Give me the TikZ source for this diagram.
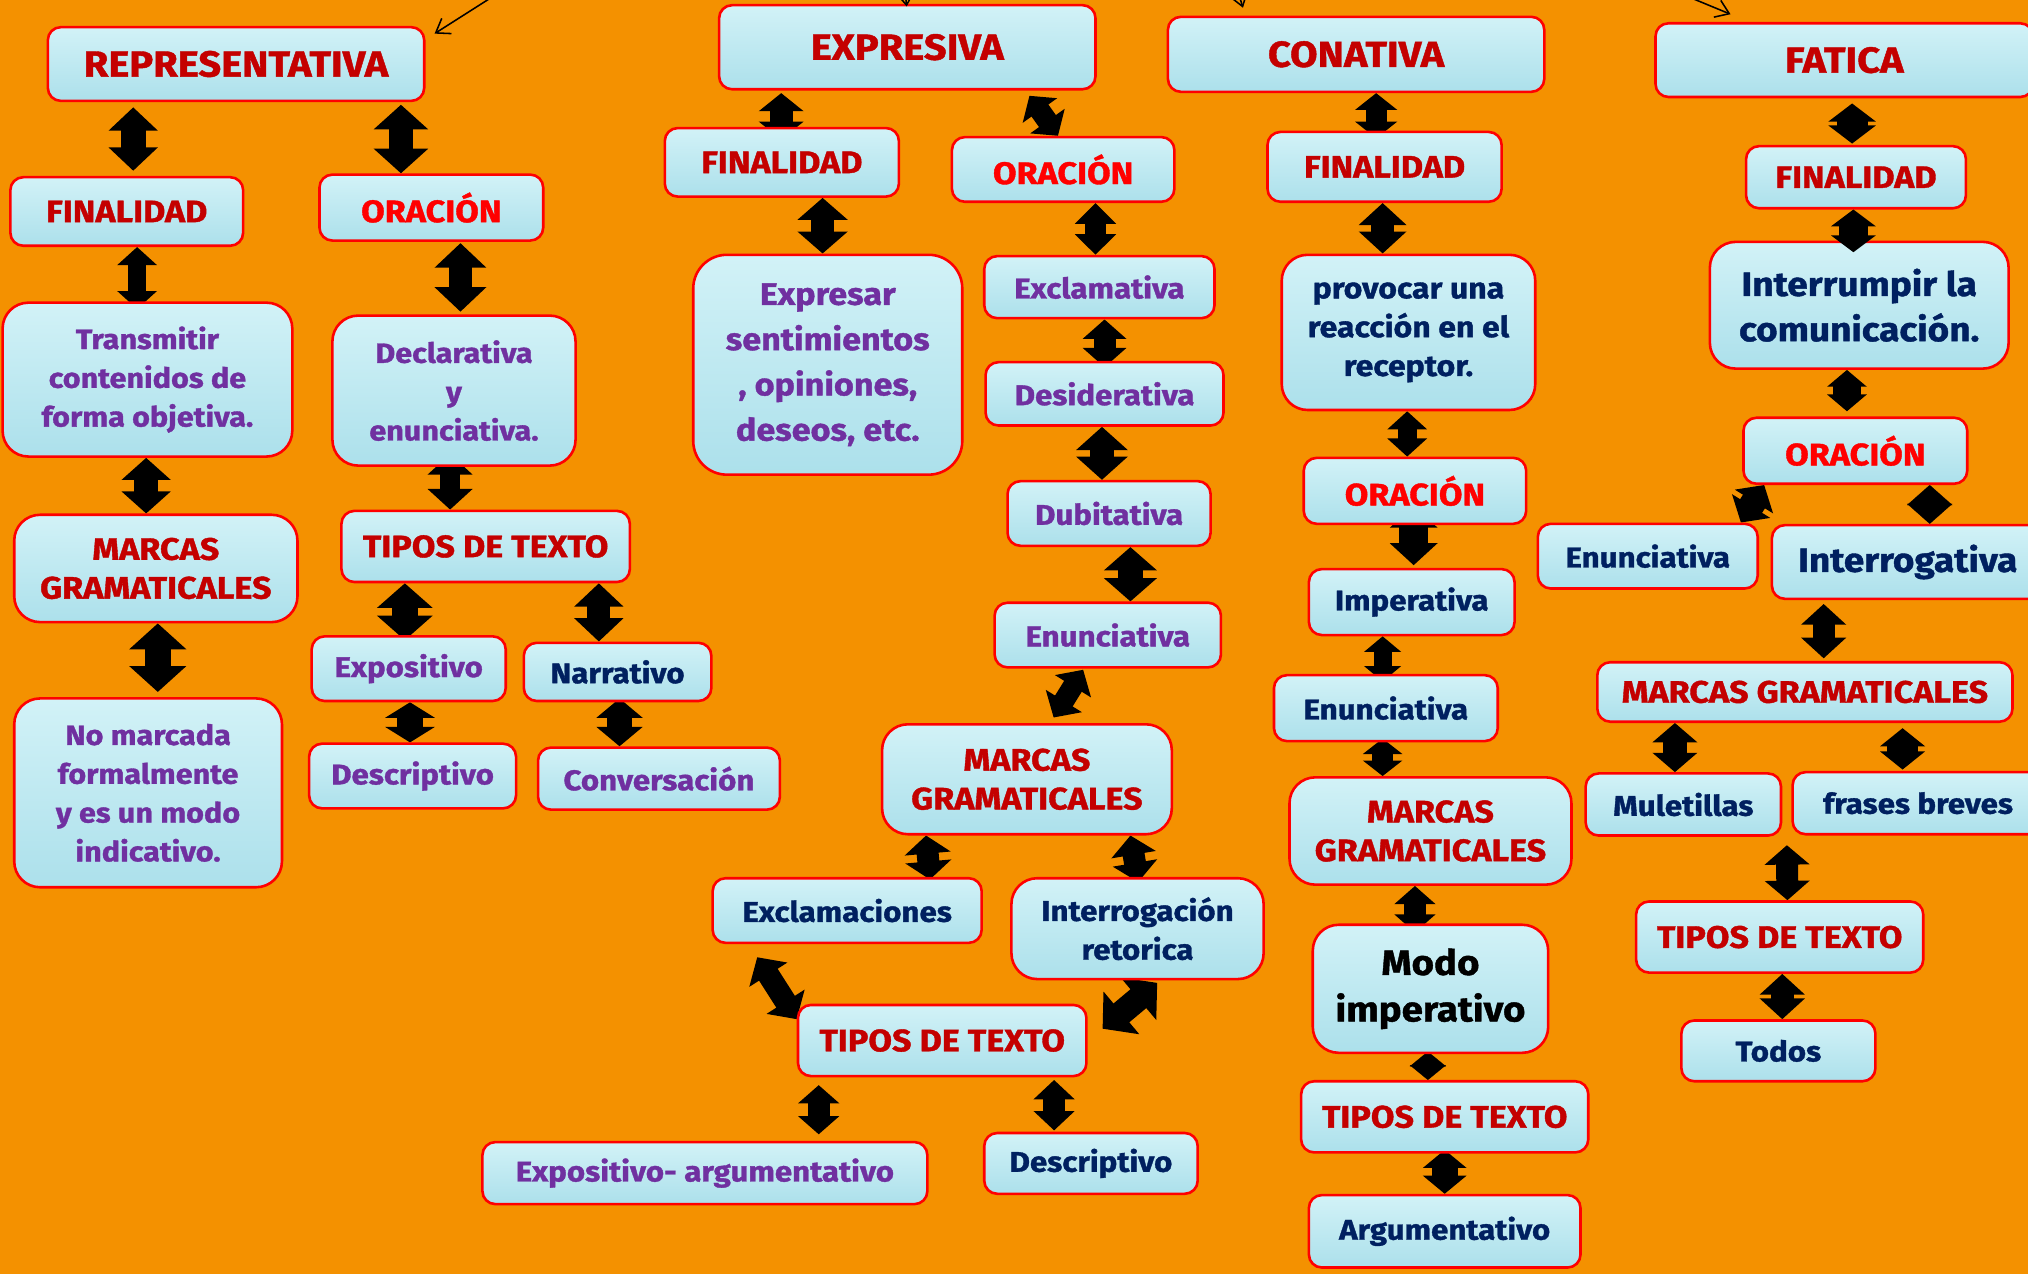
\documentclass[tikz,border=0pt]{standalone}
\usepackage{fontspec}
\setmainfont{Fira Sans}[FakeStretch=1.1,BoldFeatures={FakeBold=1.2}]
\usetikzlibrary{arrows.meta,calc}
\definecolor{bgor}{RGB}{244,145,0}
\definecolor{boxred}{RGB}{255,0,0}
\definecolor{boxA}{RGB}{210,242,247}
\definecolor{boxB}{RGB}{172,224,235}
\definecolor{dred}{RGB}{196,0,0}
\definecolor{bred}{RGB}{255,0,0}
\definecolor{purp}{RGB}{112,48,160}
\definecolor{navy}{RGB}{0,32,96}
\pgfdeclarelayer{back}
\pgfsetlayers{back,main}
\newcommand\mybox[7]{\node[box,#6,minimum width={#4pt-#2pt},minimum height={#5pt-#3pt}] (#1) at ({(#2+#4)/2},{(#3+#5)/2}) {#7};}
\tikzset{
 box/.style={draw=boxred, line width=2pt, rounded corners=10pt, top color=boxA, bottom color=boxB, inner sep=0pt, align=center},
 bigr/.style={rounded corners=20pt},
 ttl/.style={text=dred, font=\bfseries\fontsize{28}{30}\selectfont},
 hd/.style={text=dred, font=\bfseries\fontsize{24}{30}\selectfont},
 orc/.style={text=bred, font=\bfseries\fontsize{24}{30}\selectfont},
 lab/.style={font=\bfseries\fontsize{22}{30}\selectfont},
 bodyt/.style={font=\bfseries\fontsize{21.5}{30}\selectfont},
 bigt/.style={font=\bfseries\fontsize{26}{35}\selectfont},
 tpurp/.style={text=purp},
 tnavy/.style={text=navy},
 dbl/.style n args={3}{line width=#1, {Triangle[width=#2,length=#3]}-{Triangle[width=#2,length=#3]}},
 thinarr/.style={line width=1.2pt, -{Straight Barb[length=10pt,width=14pt]}},
}
\begin{document}
\begin{tikzpicture}[x=1pt,y=-1pt]
\useasboundingbox (0,0) rectangle (1568,985);
\begin{pgfonlayer}{back}
\fill[bgor] (0,0) rectangle (1568,985);
\end{pgfonlayer}
\clip (0,0) rectangle (1568,985);
% ---------- column 1
\mybox{rep}{37}{21}{328}{78}{ttl}{REPRESENTATIVA}
\mybox{fin1}{8}{137}{188}{190}{hd}{FINALIDAD}
\mybox{ora1}{247}{135}{420}{186}{orc}{ORACIÓN}
\mybox{tra}{2}{234}{226}{353}{bodyt,tpurp,bigr}{Transmitir\\contenidos de\\forma objetiva.}
\mybox{dec}{257}{244}{445}{360}{bodyt,tpurp,bigr}{Declarativa\\y\\enunciativa.}
\mybox{mar1}{11}{398}{230}{481}{hd,bigr}{MARCAS\\GRAMATICALES}
\mybox{tip1}{264}{395}{487}{450}{hd}{TIPOS DE TEXTO}
\mybox{expo1}{241}{492}{391}{542}{lab,tpurp}{Expositivo}
\mybox{narr}{405}{497}{550}{542}{lab,tnavy}{Narrativo}
\mybox{desc1}{239}{575}{399}{625}{lab,tpurp}{Descriptivo}
\mybox{conv}{416}{578}{603}{626}{lab,tpurp}{Conversación}
\mybox{nom}{11}{540}{218}{686}{bodyt,tpurp,bigr}{No marcada\\formalmente\\y es un modo\\indicativo.}
% ---------- column 2
\mybox{exp}{556}{4}{847}{69}{ttl}{EXPRESIVA}
\mybox{fin2}{514}{99}{695}{152}{hd}{FINALIDAD}
\mybox{ora2}{736}{106}{908}{156}{orc}{ORACIÓN}
\mybox{expr}{536}{197}{744}{367}{tpurp,bigr,rounded corners=26pt,font=\bfseries\fontsize{24}{35}\selectfont}{Expresar\\sentimientos\\, opiniones,\\deseos, etc.}
\mybox{excl}{761}{198}{939}{246}{lab,tpurp}{Exclamativa}
\mybox{desi}{762}{280}{946}{329}{lab,tpurp}{Desiderativa}
\mybox{dubi}{779}{372}{936}{422}{lab,tpurp}{Dubitativa}
\mybox{enu2}{769}{466}{944}{516}{lab,tpurp}{Enunciativa}
\mybox{mar2}{682}{560}{906}{645}{hd,bigr}{MARCAS\\GRAMATICALES}
\mybox{exc}{551}{679}{759}{729}{lab,tnavy}{Exclamaciones}
\mybox{inte}{782}{679}{977}{757}{lab,tnavy,bigr}{Interrogación\\retorica}
\mybox{tip2}{617}{777}{840}{832}{hd}{TIPOS DE TEXTO}
\mybox{exar}{373}{883}{717}{931}{lab,tpurp}{Expositivo- argumentativo}
\mybox{desc2}{761}{876}{926}{923}{lab,tnavy}{Descriptivo}
% ---------- column 3
\mybox{con}{903}{13}{1194}{71}{ttl}{CONATIVA}
\mybox{fin3}{980}{102}{1161}{156}{hd}{FINALIDAD}
\mybox{prov}{991}{197}{1187}{317}{bodyt,tnavy,bigr,font=\bfseries\fontsize{22.5}{30}\selectfont}{provocar una\\reacción en el\\receptor.}
\mybox{ora3}{1008}{354}{1180}{405}{orc}{ORACIÓN}
\mybox{imp}{1012}{440}{1171}{491}{lab,tnavy}{Imperativa}
\mybox{enu3}{985}{522}{1158}{573}{lab,tnavy}{Enunciativa}
\mybox{mar3}{997}{601}{1215}{684}{hd,bigr}{MARCAS\\GRAMATICALES}
\mybox{modo}{1015}{715}{1197}{814}{bigt,text=black,bigr,font=\bfseries\fontsize{27}{36}\selectfont}{Modo\\imperativo}
\mybox{tip3}{1006}{836}{1228}{891}{hd}{TIPOS DE TEXTO}
\mybox{arg}{1012}{924}{1222}{980}{lab,tnavy}{Argumentativo}
% ---------- column 4
\mybox{fat}{1280}{18}{1572}{75}{ttl}{FATICA}
\mybox{fin4}{1350}{113}{1520}{161}{hd}{FINALIDAD}
\mybox{intr}{1322}{187}{1553}{285}{bigt,tnavy,bigr}{Interrumpir la\\comunicación.}
\mybox{ora4}{1348}{323}{1521}{374}{orc}{ORACIÓN}
\mybox{enu4}{1189}{405}{1359}{455}{lab,tnavy}{Enunciativa}
\mybox{intg}{1370}{406}{1580}{463}{bigt,tnavy}{Interrogativa}
\mybox{mar4}{1235}{512}{1556}{558}{hd}{MARCAS GRAMATICALES}
\mybox{mul}{1226}{598}{1377}{646}{lab,tnavy}{Muletillas}
\mybox{fra}{1386}{597}{1580}{645}{lab,tnavy}{frases breves}
\mybox{tip4}{1265}{697}{1487}{752}{hd}{TIPOS DE TEXTO}
\mybox{tod}{1300}{789}{1450}{836}{lab,tnavy}{Todos}
% ---------- top thin arrows
\coordinate (t1) at (380,-2);
\coordinate (t2) at (699,-14);
\coordinate (t3) at (953,-20);
\coordinate (t4) at (1292,-8);
\draw[thinarr] (t1) -- ([xshift=7pt,yshift=-6pt]rep.north east);
\draw[thinarr] (t2) -- ([yshift=-2pt]exp.north -| 701,0);
\draw[thinarr] (t3) -- ([yshift=6pt]con.north -| 961,0);
\draw[thinarr] (t4) -- ([yshift=6pt]fat.north -| 1338,0);
% ---------- block arrow drawn over a box
\draw[dbl={22pt}{34pt}{13pt}] (fin4.south -| 1433,0) -- ([yshift=-9pt]intr.north -| 1433,0);
% ---------- block arrows (behind boxes)
\begin{pgfonlayer}{back}
% col 1
\draw[dbl={19pt}{37pt}{18pt},shorten <=4pt,shorten >=4pt] (rep.south -| 103,0) -- (fin1.north -| 103,0);
\draw[dbl={19pt}{41pt}{19pt},shorten <=2pt] (rep.south -| 310,0) -- (ora1.north -| 310,0);
\draw[dbl={14pt}{30pt}{14pt}] (fin1.south -| 106,0) -- ([yshift=-6pt]tra.north -| 106,0);
\draw[dbl={18pt}{39pt}{19pt},shorten <=1pt,shorten >=2pt] (ora1.south -| 356,0) -- (dec.north -| 356,0);
\draw[dbl={19pt}{37pt}{17pt}] (tra.south -| 113,0) -- (mar1.north -| 113,0);
\draw[dbl={16pt}{34pt}{16pt}] ([yshift=10pt]dec.south -| 348,0) -- (tip1.north -| 348,0);
\draw[dbl={20pt}{43pt}{20pt}] (mar1.south -| 122,0) -- ([yshift=4pt]nom.north -| 122,0);
\draw[dbl={20pt}{42pt}{19pt}] (tip1.south -| 313,0) -- ([yshift=-4pt]expo1.north -| 313,0);
\draw[dbl={18pt}{37pt}{18pt}] (tip1.south -| 463,0) -- (narr.north -| 463,0);
\draw[dbl={20pt}{38pt}{12pt}] (expo1.south -| 317,0) -- (desc1.north -| 317,0);
\draw[dbl={19pt}{35pt}{15pt}] ([yshift=3pt]narr.south -| 479,0) -- (conv.north -| 479,0);
% col 2
\draw[dbl={18pt}{34pt}{14pt},shorten <=2pt] (exp.south -| 604,0) -- ([yshift=-10pt]fin2.north -| 604,0);
\draw[dbl={16pt}{32pt}{14pt},shorten <=5pt] (exp.south -| 793,0) -- (ora2.north -| 818,0);
\draw[dbl={18pt}{38pt}{17pt}] (fin2.south -| 636,0) -- (expr.north -| 636,0);
\draw[dbl={16pt}{31pt}{16pt}] (ora2.south -| 847,0) -- (excl.north -| 847,0);
\draw[dbl={17pt}{33pt}{15pt}] (excl.south -| 854,0) -- ([yshift=-5pt]desi.north -| 854,0);
\draw[dbl={19pt}{39pt}{18pt}] (desi.south -| 852,0) -- (dubi.north -| 852,0);
\draw[dbl={19pt}{40pt}{18pt}] (dubi.south -| 874,0) -- (enu2.north -| 874,0);
\draw[dbl={16pt}{32pt}{15pt},shorten <=1pt,shorten >=5pt] (enu2.south -| 838,0) -- (mar2.north -| 812,0);
\draw[dbl={17pt}{35pt}{14pt}] (mar2.south -| 716,0) -- ([yshift=-2pt]exc.north -| 719,0);
\draw[dbl={17pt}{34pt}{15pt}] (mar2.south -| 874,0) -- ([yshift=-4pt]inte.north -| 880,0);
\draw[dbl={17pt}{34pt}{16pt},shorten <=12pt] (exc.south -| 579,0) -- (tip2.west |- 0,788);
\draw[dbl={19pt}{42pt}{19pt},shorten <=3pt,shorten >=15pt] (inte.south -| 897,0) -- (tip2.east |- 0,805);
\draw[dbl={17pt}{31pt}{14pt},shorten <=6pt,shorten >=5pt] (tip2.south -| 633,0) -- (exar.north -| 633,0);
\draw[dbl={17pt}{31pt}{15pt},shorten <=2pt] (tip2.south -| 815,0) -- ([yshift=1pt]desc2.north -| 815,0);
% col 3
\draw[dbl={16pt}{32pt}{13pt}] (con.south -| 1064,0) -- ([yshift=-6pt]fin3.north -| 1064,0);
\draw[dbl={18pt}{36pt}{17pt}] (fin3.south -| 1069,0) -- (prov.north -| 1069,0);
\draw[dbl={15pt}{30pt}{14pt}] (prov.south -| 1088,0) -- (ora3.north -| 1088,0);
\draw[dbl={22pt}{36pt}{17pt},shorten <=-15pt] (ora3.south -| 1093,0) -- ([yshift=2pt]imp.north -| 1093,0);
\draw[dbl={14pt}{28pt}{12pt}] (imp.south -| 1069,0) -- ([yshift=-6pt]enu3.north -| 1069,0);
\draw[dbl={16pt}{30pt}{12pt}] ([yshift=3pt]enu3.south -| 1069,0) -- (mar3.north -| 1069,0);
\draw[dbl={17pt}{31pt}{14pt}] (mar3.south -| 1094,0) -- ([yshift=-7pt]modo.north -| 1094,0);
\draw[dbl={0.1pt}{28pt}{11.5pt}] ([yshift=2pt]modo.south -| 1104,0) -- (tip3.north -| 1104,0);
\draw[dbl={20pt}{33pt}{14pt}] ([yshift=3pt]tip3.south -| 1117,0) -- (arg.north -| 1117,0);
% col 4
\draw[dbl={24pt}{36pt}{14pt}] ([yshift=-4pt]fat.south -| 1432,0) -- ([yshift=1pt]fin4.north -| 1432,0);
\draw[dbl={22pt}{30pt}{13pt}] (intr.south -| 1428,0) -- ([yshift=4pt]ora4.north -| 1428,0);
\draw[dbl={20pt}{34pt}{15pt}] (ora4.south -| 1364,0) -- (enu4.north -| 1346,0);
\draw[dbl={0.1pt}{35pt}{15.5pt}] (ora4.south -| 1492,0) -- (intg.north -| 1492,0);
\draw[dbl={17pt}{34pt}{16pt}] ([yshift=-3pt]intg.south -| 1410,0) -- ([yshift=2pt]mar4.north -| 1410,0);
\draw[dbl={18pt}{34pt}{15pt}] (mar4.south -| 1295,0) -- (mul.north -| 1295,0);
\draw[dbl={24pt}{34pt}{14pt}] ([yshift=-4pt]mar4.south -| 1471,0) -- ([yshift=1pt]fra.north -| 1471,0);
\draw[dbl={17pt}{34pt}{15pt},shorten <=7pt] ($(mul.south east)!0.5!(fra.south west)$) -- (tip4.north -| 1382,0);
\draw[dbl={18pt}{34pt}{16pt}] (tip4.south -| 1378,0) -- (tod.north -| 1378,0);
\end{pgfonlayer}
\end{tikzpicture}
\end{document}
